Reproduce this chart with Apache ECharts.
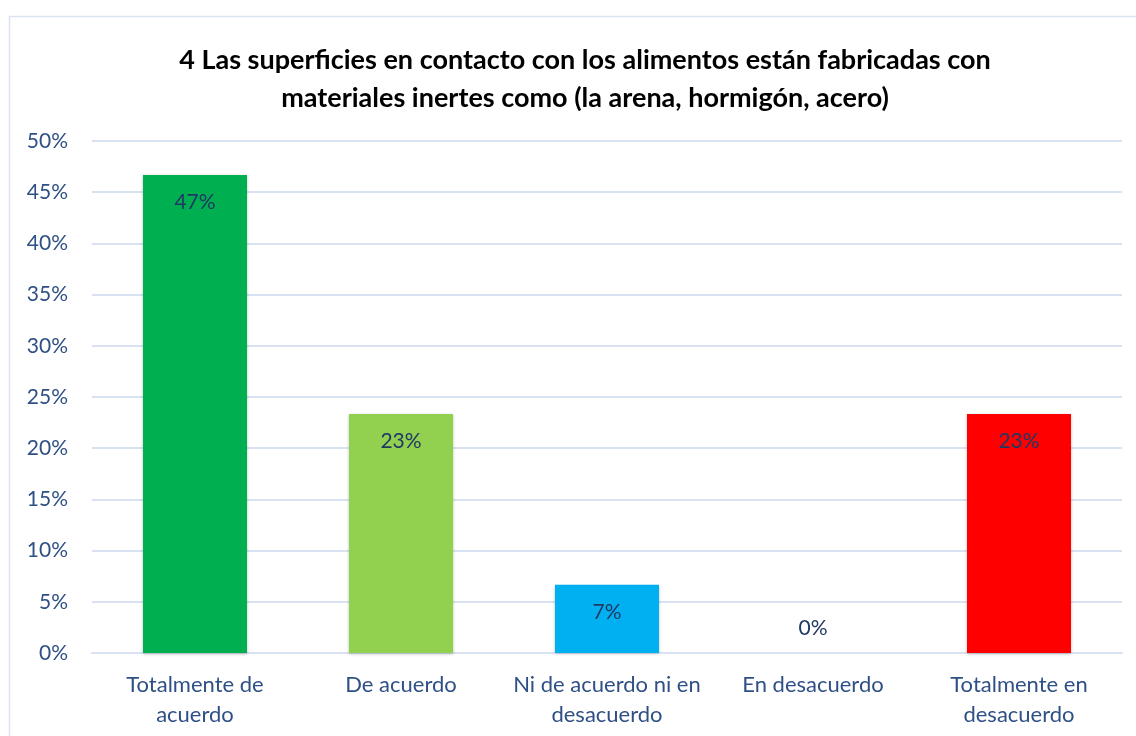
<!DOCTYPE html>
<html>
<head>
<meta charset="utf-8">
<script src="https://cdn.jsdelivr.net/npm/echarts@6/dist/echarts.min.js"></script>
<style>
html, body { margin: 0; padding: 0; background: #fff; }
#main { width: 1136px; height: 736px; }
</style>
</head>
<body>
<div id="main"></div>
<script>
var categories = ['Totalmente de\nacuerdo', 'De acuerdo', 'Ni de acuerdo ni en\ndesacuerdo', 'En desacuerdo', 'Totalmente en\ndesacuerdo'];
var values = [0.4667, 0.2333, 0.0667, 0, 0.2333];
var barColors = ['#00B050', '#92D050', '#00B0F0', '#FFC000', '#FF0000'];

var myChart = echarts.init(document.getElementById('main'));

var option = {
    backgroundColor: '#fff',
    textStyle: { fontFamily: 'Lato' },
    graphic: [{
        type: 'rect',
        shape: { x: 9.5, y: 16.5, width: 1140, height: 740 },
        style: { fill: 'none', stroke: '#DAE3F3', lineWidth: 1.5 },
        silent: true
    }],
    title: {
        text: '4 Las superficies en contacto con los alimentos están fabricadas con\nmateriales inertes como (la arena, hormigón, acero)',
        left: 580,
        textAlign: 'center',
        top: 36,
        textStyle: {
            fontFamily: 'Lato',
            fontSize: 27,
            fontWeight: 'bold',
            color: '#000',
            lineHeight: 38
        }
    },
    grid: { left: 92, right: 14, top: 141, bottom: 83 },
    xAxis: {
        type: 'category',
        data: categories,
        axisLine: { show: true, lineStyle: { color: '#D9E2F3', width: 2 } },
        axisTick: { show: false },
        axisLabel: {
            color: '#2F5085',
            fontSize: 22,
            lineHeight: 30,
            margin: 17,
            interval: 0
        }
    },
    yAxis: {
        type: 'value',
        min: 0,
        max: 0.5,
        interval: 0.05,
        axisLine: { show: false },
        axisTick: { show: false },
        splitLine: { lineStyle: { color: '#D9E2F3', width: 2 } },
        axisLabel: {
            color: '#2F5085',
            fontSize: 21,
            margin: 24,
            formatter: function (v) { return Math.round(v * 100) + '%'; }
        }
    },
    series: [{
        type: 'bar',
        data: values.map(function (v, i) {
            var item = { value: v, itemStyle: { color: barColors[i] } };
            if (v === 0) {
                item.label = { position: 'top', distance: 14 };
            }
            return item;
        }),
        barWidth: 104,
        itemStyle: {
            shadowColor: 'rgba(0,0,0,0.25)',
            shadowBlur: 3,
            shadowOffsetY: 1
        },
        label: {
            show: true,
            position: 'insideTop',
            distance: 17,
            color: '#203864',
            fontSize: 21,
            formatter: function (p) { return Math.round(p.value * 100) + '%'; }
        },
        animation: false
    }],
    animation: false
};

myChart.setOption(option);
</script>
</body>
</html>
